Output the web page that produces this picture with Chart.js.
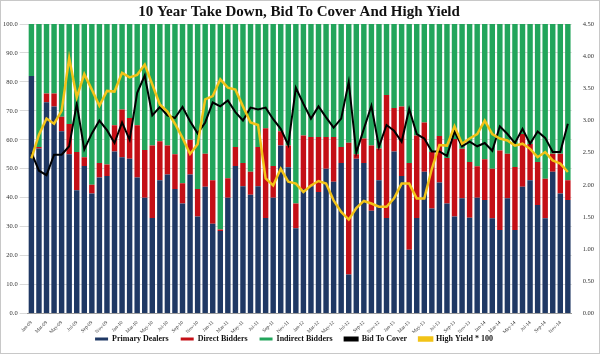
<!DOCTYPE html>
<html lang="en">
<head>
    <meta charset="UTF-8">
    <title>10 Year Take Down, Bid To Cover And High Yield</title>
    <style>
        body {
            margin: 0;
            background-color: #fff;
        }
        #wrap {
            width: 598px;
            height: 352px;
            border: 1px solid #c8c8c8;
        }
    </style>
</head>
<body>
    <div id="wrap">
        <canvas id="chart" width="598" height="352"></canvas>
    </div>

    <script src="https://cdn.jsdelivr.net/npm/chart.js"></script>
    <script>
        // months and years used to build the category labels (Jan-09 .. Dec-14)
        const months = ['Jan', 'Feb', 'Mar', 'Apr', 'May', 'Jun', 'Jul', 'Aug', 'Sep', 'Oct', 'Nov', 'Dec'];
        const years = ['09', '10', '11', '12', '13', '14'];

        // take down shares, percent of each auction
        const primaryDealers = [
            82, 57, 73, 71.5, 63, 55, 42.6, 51, 41.5, 47,
            47.5, 56, 54, 53.5, 47, 40, 33, 46, 48, 43,
            38, 48, 33.5, 43.8, 31, 28.5, 40, 51, 44, 41,
            44, 33, 40, 58, 50.5, 29.5, 43, 44, 42, 50,
            45.5, 52, 13.5, 53.5, 52, 35.5, 46, 33, 56, 47.5,
            22, 33, 49, 36.3, 45.3, 38, 33.5, 39.8, 33.1, 40,
            39.2, 32.9, 28.9, 39.8, 28.9, 43.8, 46, 37.5, 32.9, 49,
            41.5, 39.2
        ];
        const directBidders = [
            0, 0.5, 3, 4.5, 5, 10.5, 13.2, 3, 3, 5,
            4, 9, 16.5, 14, 18, 16.5, 25, 13.5, 10, 12,
            7, 12, 9.5, 11.4, 15, 0.5, 6.7, 6.5, 8, 8,
            13.5, 31, 11, 5, 7.5, 8.5, 18.5, 17, 19, 11,
            15.5, 5.5, 45.5, 1.5, 8.5, 22.5, 11, 42.5, 15, 24,
            30, 28.5, 17, 19.5, 16, 15.7, 26.8, 17.1, 19.2, 10.9,
            14.1, 17.1, 27.4, 15.4, 21.7, 18.2, 12.6, 14.8, 13.7, 6.2,
            13.7, 6.8
        ];
        const indirectBidders = [
            18, 42.5, 24, 24, 32, 34.5, 44.2, 46, 55.5, 48,
            48.5, 35, 29.5, 32.5, 35, 43.5, 42, 40.5, 42, 45,
            55, 40, 57, 44.8, 54, 71, 53.3, 42.5, 48, 51,
            42.5, 36, 49, 37, 42, 62, 38.5, 39, 39, 39,
            39, 42.5, 41, 45, 39.5, 42, 43, 24.5, 29, 28.5,
            48, 38.5, 34, 44.2, 38.7, 46.3, 39.7, 43.1, 47.7, 49.1,
            46.7, 50, 43.7, 44.8, 49.4, 38, 41.4, 47.7, 53.4, 44.8,
            44.8, 54
        ];

        // right axis series
        const bidToCover = [
            2.50, 2.22, 2.15, 2.47, 2.47, 2.60, 3.26, 2.55, 2.80, 3.00,
            2.85, 2.65, 2.97, 2.70, 3.43, 3.70, 3.08, 3.21, 3.08, 3.04,
            3.21, 2.99, 2.80, 2.97, 3.28, 3.22, 3.31, 3.13, 3.00, 3.20,
            3.17, 3.20, 3.02, 2.87, 2.62, 3.51, 3.26, 3.03, 3.22, 3.05,
            2.89, 3.03, 3.60, 2.50, 2.87, 3.23, 2.59, 2.93, 2.84, 2.67,
            3.18, 2.79, 2.72, 2.52, 2.52, 2.45, 2.83, 2.60, 2.67, 2.60,
            2.65, 2.53, 2.91, 2.79, 2.65, 2.87, 2.64, 2.83, 2.73, 2.51,
            2.51, 2.95
        ];
        const highYield = [
            2.41, 2.78, 3.03, 2.95, 3.15, 3.97, 3.36, 3.72, 3.48, 3.23,
            3.46, 3.45, 3.74, 3.67, 3.71, 3.87, 3.56, 3.25, 3.14, 2.95,
            2.73, 2.48, 2.63, 3.33, 3.38, 3.64, 3.51, 3.48, 3.22, 2.97,
            2.93, 2.10, 1.99, 2.25, 2.05, 2.02, 1.89, 1.99, 2.06, 2.02,
            1.76, 1.58, 1.46, 1.64, 1.75, 1.71, 1.66, 1.66, 1.79, 2.02,
            2.02, 1.79, 1.79, 2.25, 2.62, 2.61, 2.91, 2.64, 2.72, 2.79,
            3.00, 2.79, 2.72, 2.69, 2.61, 2.64, 2.56, 2.43, 2.51, 2.38,
            2.33, 2.20
        ];

        const labels = [];
        years.forEach(y => months.forEach(m => labels.push(m + '-' + y)));

        const serif = "'Liberation Serif', 'Times New Roman', serif";

        new Chart(document.getElementById('chart'), {
            type: 'bar',
            data: {
                labels: labels,
                datasets: [
                    {
                        label: 'Primary Dealers',
                        data: primaryDealers,
                        backgroundColor: '#1f3864',
                        yAxisID: 'y',
                        barPercentage: 0.72,
                        categoryPercentage: 1
                    },
                    {
                        label: 'Direct Bidders',
                        data: directBidders,
                        backgroundColor: '#c40f16',
                        yAxisID: 'y',
                        barPercentage: 0.72,
                        categoryPercentage: 1
                    },
                    {
                        label: 'Indirect Bidders',
                        data: indirectBidders,
                        backgroundColor: '#22a55b',
                        yAxisID: 'y',
                        barPercentage: 0.72,
                        categoryPercentage: 1
                    },
                    {
                        type: 'line',
                        label: 'Bid To Cover',
                        data: bidToCover,
                        borderColor: '#000000',
                        backgroundColor: '#000000',
                        borderWidth: 2,
                        pointRadius: 0,
                        yAxisID: 'y2',
                        order: -1
                    },
                    {
                        type: 'line',
                        label: 'High Yield * 100',
                        data: highYield,
                        borderColor: '#f2c317',
                        backgroundColor: '#f2c317',
                        borderWidth: 2.5,
                        pointRadius: 0,
                        yAxisID: 'y2',
                        order: -2
                    }
                ]
            },
            options: {
                responsive: false,
                animation: false,
                layout: { padding: { left: 0, right: 2, top: 0, bottom: 0 } },
                plugins: {
                    title: {
                        display: true,
                        text: '10 Year Take Down, Bid To Cover And High Yield',
                        color: '#111',
                        font: { family: serif, size: 15, weight: 'bold' },
                        padding: { top: 2, bottom: 3 }
                    },
                    legend: {
                        position: 'bottom',
                        labels: {
                            color: '#111',
                            font: { family: serif, size: 8, weight: 'bold' },
                            boxWidth: 13,
                            boxHeight: 3,
                            padding: 2,
                            generateLabels: function (chart) {
                                const items = Chart.defaults.plugins.legend.labels.generateLabels(chart);
                                items.sort((a, b) => a.datasetIndex - b.datasetIndex);
                                items.forEach(it => { it.text = it.text + '     '; });
                                return items;
                            }
                        }
                    },
                    tooltip: { enabled: false }
                },
                scales: {
                    x: {
                        stacked: true,
                        grid: { display: false },
                        border: { color: '#999' },
                        ticks: {
                            autoSkip: false,
                            maxRotation: 45,
                            minRotation: 45,
                            color: '#333',
                            font: { family: serif, size: 5 },
                            padding: -2,
                            callback: function (value, index) {
                                return index % 2 === 0 ? labels[index] : '';
                            }
                        }
                    },
                    y: {
                        stacked: true,
                        min: 0,
                        max: 100,
                        position: 'left',
                        grid: { color: '#d9d9d9' },
                        border: { display: false },
                        ticks: {
                            stepSize: 10,
                            color: '#333',
                            font: { family: serif, size: 6.5 },
                            padding: 2,
                            callback: v => v.toFixed(1)
                        }
                    },
                    y2: {
                        min: 0,
                        max: 4.5,
                        position: 'right',
                        grid: { display: false },
                        border: { display: false },
                        ticks: {
                            stepSize: 0.5,
                            color: '#333',
                            font: { family: serif, size: 6.5 },
                            callback: v => v.toFixed(2)
                        }
                    }
                }
            }
        });
    </script>
</body>
</html>
